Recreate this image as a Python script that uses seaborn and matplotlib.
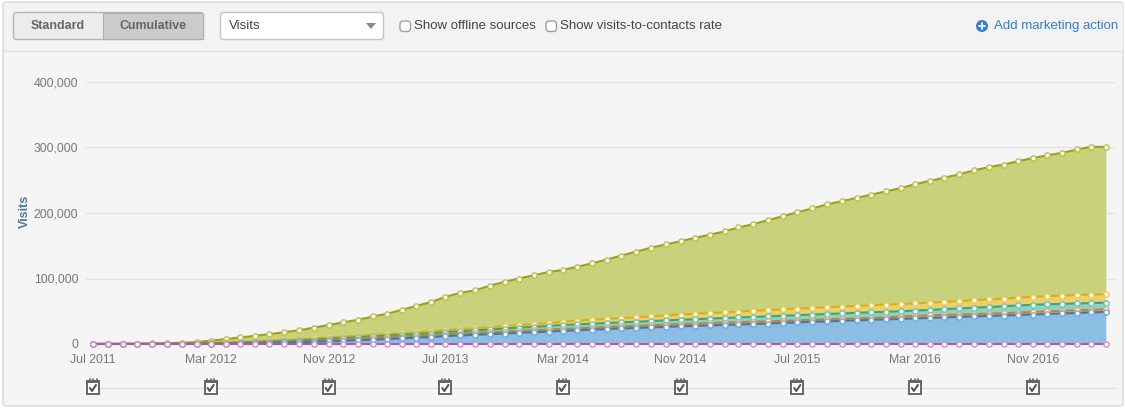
import matplotlib
matplotlib.use('Agg')
import matplotlib.pyplot as plt
from matplotlib.patches import FancyBboxPatch, Rectangle, Polygon, Circle
import pandas as pd
import seaborn as sns

sns.set_theme(style='white')
plt.rcParams['font.family'] = ['Liberation Sans', 'DejaVu Sans']

# cumulative stacked levels, in thousands of visits, one value per month from Jul 2011
top_green = [0.1, 0.2, 0.3, 0.5, 0.8, 1.2, 1.8, 3, 5, 7.5, 10, 12.5, 15, 18, 21, 25, 29,
             33, 37, 42, 46, 52, 58, 64, 72, 78, 82, 89, 95, 100, 105, 110, 113,
             118, 123, 129, 135, 141, 147, 152, 157, 162, 167, 172, 178, 183, 189, 195, 201,
             207, 213, 218, 223, 228, 233, 238, 244, 249, 254, 259, 265, 270, 274, 279, 284,
             288, 292, 297, 301, 301]
top_yellow = [0.1, 0.1, 0.2, 0.2, 0.3, 0.4, 0.6, 1, 1.5, 2.3, 3, 4, 5, 6, 7, 8.5, 10,
              11.3, 12.6, 14, 15.2, 16.5, 17.8, 19.4, 21, 22.5, 24, 25.6, 27.2, 28.8, 30.2, 32, 34,
              35.5, 37, 38.3, 39.6, 40.8, 42, 43.5, 45, 46, 47.2, 48.3, 49.4, 50.5, 51.6, 52.8, 54,
              55, 56, 57, 58, 59, 60, 61, 62, 63.2, 64.4, 65.6, 66.8, 68, 69.2, 70.6, 72,
              73, 74, 74.8, 75.5, 76]
top_teal = [0.1, 0.1, 0.1, 0.2, 0.2, 0.3, 0.4, 0.7, 1, 1.6, 2.2, 3, 3.8, 4.6, 5.5, 6.7, 8,
            9.2, 10.4, 11.6, 12.8, 14, 15.2, 16.6, 18, 19.4, 20.8, 22.2, 23.6, 25, 26.2, 27.6, 29,
            30, 31, 32, 33, 34, 35, 36, 37, 37.9, 38.8, 39.7, 40.6, 41.4, 42.2, 43.1, 44,
            44.9, 45.8, 46.7, 47.6, 48.4, 49.2, 50.1, 51, 52.1, 53.2, 54.3, 55.4, 56.5, 57.6, 58.8, 60,
            60.6, 61.2, 61.9, 62.5, 63]
top_orange = [0, 0.1, 0.1, 0.1, 0.2, 0.2, 0.3, 0.4, 0.6, 1, 1.5, 2.1, 2.7, 3.4, 4.1, 5, 6,
              7.1, 8.2, 9.3, 10.4, 11.4, 12.4, 13.7, 15, 16, 17, 18, 19, 20, 20.9, 22, 23,
              24, 25, 25.9, 26.8, 27.7, 28.6, 29.6, 30.5, 31.2, 32, 32.7, 33.4, 34, 34.7, 35.4, 36,
              36.8, 37.6, 38.4, 39.1, 39.9, 40.7, 41.8, 43, 43.7, 44.4, 45, 45.6, 46.3, 47, 48, 49,
              49.8, 50.6, 51.4, 52.2, 53]
top_blue = [0, 0, 0.1, 0.1, 0.1, 0.2, 0.2, 0.3, 0.4, 0.7, 1, 1.4, 1.8, 2.3, 2.8, 3.4, 4,
            4.8, 5.7, 6.6, 7.5, 8.5, 9.5, 10.7, 12, 13, 14, 15, 16, 17, 17.9, 19, 20,
            21, 21.9, 22.8, 23.7, 24.5, 25.3, 26.2, 27, 27.7, 28.4, 29.1, 29.8, 30.5, 31.2, 32.1, 33,
            33.8, 34.5, 35.3, 36, 36.8, 37.5, 38.2, 39, 39.8, 40.5, 41.3, 42, 42.8, 43.5, 44.2, 45,
            45.8, 46.6, 47.4, 48.2, 49]
pink = [0] * 70

tick_dates = ['2011-07-01', '2012-03-01', '2012-11-01', '2013-07-01', '2014-03-01',
              '2014-11-01', '2015-07-01', '2016-03-01', '2016-11-01']
tick_labels = ['Jul 2011', 'Mar 2012', 'Nov 2012', 'Jul 2013', 'Mar 2014', 'Nov 2014',
               'Jul 2015', 'Mar 2016', 'Nov 2016']
y_ticks = [0, 100, 200, 300, 400]
y_labels = ['0', '100,000', '200,000', '300,000', '400,000']

W, H = 1125, 412
fig = plt.figure(figsize=(W / 100, H / 100), dpi=100, facecolor='white')

# page furniture, drawn in pixel coordinates
ui = fig.add_axes([0, 0, 1, 1], zorder=0)
ui.set_xlim(0, W)
ui.set_ylim(H, 0)
ui.axis('off')

ui.add_patch(FancyBboxPatch((3, 2), W - 5, H - 8, boxstyle='round,pad=0,rounding_size=3',
                            fc='#f5f5f5', ec='#d8d8d8', lw=1))
ui.add_patch(Rectangle((3.5, 2.5), W - 6, 48, fc='#f3f3f3', ec='none'))
ui.plot([3, W - 2], [50.5, 50.5], color='#e2e2e2', lw=1)


def rbox(x, y, w, h, fc, ec='#b5b5b5'):
    ui.add_patch(FancyBboxPatch((x, y), w, h, boxstyle='round,pad=0,rounding_size=3',
                                fc=fc, ec=ec, lw=1))


rbox(13.5, 12.5, 190, 27, '#ececec')
ui.add_patch(Rectangle((103, 13), 100, 26, fc='#cbcbcb', ec='#b0b0b0', lw=0.8))
ui.text(58, 26, 'Standard', ha='center', va='center', fontsize=8.9, fontweight='bold', color='#666666')
ui.text(153.5, 26, 'Cumulative', ha='center', va='center', fontsize=8.9, fontweight='bold', color='#666666')

rbox(220.5, 12.5, 163, 27, 'white', '#c4c4c4')
ui.text(229, 26, 'Visits', ha='left', va='center', fontsize=9.5, color='#444444')
ui.add_patch(Polygon([[366, 23], [376, 23], [371, 29]], fc='#888888', ec='none'))

for bx in [400, 546]:
    rbox(bx, 21, 10.5, 10.5, 'white', '#a0a0a0')
ui.text(414, 26, 'Show offline sources', ha='left', va='center', fontsize=9.5, color='#444444')
ui.text(560, 26, 'Show visits-to-contacts rate', ha='left', va='center', fontsize=9.5, color='#444444')

ui.add_patch(Circle((982, 26), 6, fc='#2f7ee0', ec='none'))
ui.plot([979, 985], [26, 26], color='white', lw=1.3)
ui.plot([982, 982], [23, 29], color='white', lw=1.3)
ui.text(994.5, 26, 'Add marketing action', ha='left', va='center', fontsize=9.5, color='#2f7ee0')

ui.text(25, 211, 'Visits', rotation=90, ha='center', va='center', fontsize=9,
        fontweight='bold', color='#4a7aa5')

months = pd.date_range('2011-07-01', periods=70, freq='MS')
start = months[0]
ticks = pd.to_datetime(tick_dates)
px_per_day = (1033 - 93) / (ticks[-1] - start).days

# row of calendar icons under the chart
ui.plot([93, 1115], [387.5, 387.5], color='#e0e0e0', lw=1)
for t in ticks:
    cx = 93 + (t - start).days * px_per_day
    ui.add_patch(Rectangle((cx - 6, 381), 12, 13, fc='white', ec='#666666', lw=1.4, zorder=3))
    ui.add_patch(Rectangle((cx - 6, 379.5), 12, 3.5, fc='#666666', ec='none', zorder=3))
    for k in [-3.5, 0, 3.5]:
        ui.plot([cx + k, cx + k], [378.5, 381], color='#666666', lw=1.2, zorder=4)
    ui.plot([cx - 3, cx - 1, cx + 3], [388, 391, 385], color='#555555', lw=1.5, zorder=4)

# chart area
left, right, top, bottom = 86, 1115, 82, 344
ax = fig.add_axes([left / W, 1 - bottom / H, (right - left) / W, (bottom - top) / H], zorder=1)
ax.patch.set_alpha(0)

df = pd.DataFrame({'month': months, 'green': top_green, 'yellow': top_yellow, 'teal': top_teal,
                   'orange': top_orange, 'blue': top_blue, 'pink': pink})

ax.fill_between(months, df['yellow'], df['green'], color='#c8d17c', lw=0)
ax.fill_between(months, df['teal'], df['yellow'], color='#ebd072', lw=0)
ax.fill_between(months, df['orange'], df['teal'], color='#8fd3bf', lw=0)
ax.fill_between(months, df['blue'], df['orange'], color='#e9a878', lw=0)
ax.fill_between(months, 0, df['blue'], color='#8cbde3', lw=0)

series = [('green', '#98a800', '#b9c340'), ('yellow', '#e4ad08', '#eccb50'),
          ('teal', '#20ad9a', '#62c9b4'), ('orange', '#df7a20', '#e9a878'),
          ('blue', '#2a7fc8', '#6aa8dc'), ('pink', '#b4589e', '#d58cc2')]
for name, line_c, edge_c in series:
    sns.lineplot(data=df, x='month', y=name, ax=ax, color=line_c, lw=1.5, marker='o', ms=3.8,
                 mfc='white', mec=edge_c, mew=1, errorbar=None, clip_on=False)

ax.set_xlim(start + pd.Timedelta(days=(left - 93) / px_per_day),
            start + pd.Timedelta(days=(right - 93) / px_per_day))
ax.set_ylim(0, 400)
ax.set_xticks(ticks)
ax.set_xticklabels(tick_labels)
ax.set_yticks(y_ticks)
ax.set_yticklabels(y_labels)
ax.set_xlabel('')
ax.set_ylabel('')
ax.grid(axis='y', color='#e3e3e3', lw=1)
ax.set_axisbelow(True)
sns.despine(ax=ax, left=True, bottom=True, top=True, right=True)
ax.tick_params(axis='x', length=4, width=1, color='#c8d8ea', labelsize=8.8, labelcolor='#777777', pad=3)
ax.tick_params(axis='y', length=0, labelsize=8.8, labelcolor='#777777', pad=5.5)

fig.savefig('out.png', dpi=100)
